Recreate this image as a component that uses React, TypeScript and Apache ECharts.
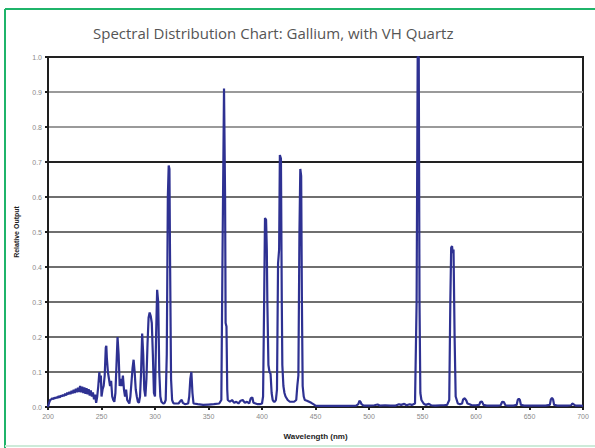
import React, { useEffect, useRef } from "react";
import * as echarts from "echarts";

// Wavelength samples (nm) and relative output of the lamp spectrum
const wavelength: number[] = [
  200, 201, 202, 203, 204, 205, 206, 207, 208, 209, 210, 211, 212, 213, 214, 215, 216, 217, 218, 219,
  220, 221, 222, 223, 224, 225, 226, 227, 228, 229, 230, 231, 232, 233, 234, 235, 236, 237, 238, 239,
  240, 241, 242, 243, 244, 245, 246, 247, 248, 248.7, 249.4, 250, 251, 252, 253, 254, 254.5, 255, 256, 257,
  258, 259, 260, 261, 262, 263, 264, 265, 266, 267, 268, 269, 270, 271, 272, 273, 274, 275, 276, 277,
  278, 279, 280, 281, 282, 283, 284, 285, 286, 287, 288, 289, 290, 291, 292, 293, 294, 295, 296, 297,
  298, 299, 300, 301, 302, 303, 304, 305, 306, 307, 308, 309, 310, 311, 312, 312.8, 313.5, 314, 315, 316,
  317, 318, 322, 324, 325, 326, 328, 331, 332, 333, 334, 335, 336, 340, 345, 350, 355, 360, 362, 363,
  364.5, 365.5, 366, 366.8, 367.5, 368, 370, 372, 374, 376, 378, 380, 382, 384, 386, 388, 389.5, 391, 392, 394,
  396, 398, 400, 401, 402, 402.8, 403.8, 404.5, 405, 406, 407, 408, 409, 410, 411, 412, 413, 414, 415, 416,
  416.7, 417.7, 418.5, 419, 420, 421, 422, 424, 426, 428, 430, 432, 433, 434, 435, 435.8, 436.6, 437.3, 438, 439,
  440, 442, 444, 446, 448, 450, 455, 460, 470, 480, 488, 490, 491, 492, 493, 495, 500, 505, 508, 510,
  515, 520, 525, 528, 530, 533, 535, 538, 540, 543, 544.5, 545.5, 546.5, 547.2, 548, 549, 551, 553, 556, 558,
  562, 567, 570, 573, 575, 576, 576.8, 577.6, 578.3, 579, 580, 581, 583, 585, 587, 588, 589.5, 591, 592, 594,
  596, 600, 603, 604, 605.5, 607, 610, 615, 620, 623, 624.5, 626, 627.5, 630, 635, 638, 639, 640, 641, 642,
  645, 650, 655, 660, 665, 669, 670, 671, 672, 673, 676, 680, 685, 689, 690, 691, 693, 697, 700,
];

const relativeOutput: number[] = [
  0.0, 0.012, 0.02, 0.022, 0.025, 0.022, 0.027, 0.025, 0.028, 0.026, 0.031, 0.027, 0.033, 0.03, 0.035, 0.031, 0.038, 0.033, 0.041, 0.036,
  0.043, 0.037, 0.046, 0.039, 0.049, 0.04, 0.052, 0.042, 0.055, 0.043, 0.06, 0.042, 0.058, 0.04, 0.056, 0.038, 0.054, 0.036, 0.051, 0.033,
  0.047, 0.03, 0.042, 0.022, 0.035, 0.012, 0.03, 0.06, 0.1, 0.07, 0.09, 0.03, 0.05, 0.06, 0.09, 0.17, 0.175, 0.14, 0.1, 0.08,
  0.06, 0.075, 0.03, 0.02, 0.015, 0.04, 0.12, 0.2, 0.15, 0.06, 0.08, 0.06, 0.09, 0.05, 0.03, 0.05, 0.02, 0.015, 0.01, 0.03,
  0.07, 0.11, 0.135, 0.1, 0.05, 0.03, 0.015, 0.012, 0.03, 0.1, 0.21, 0.15, 0.05, 0.03, 0.08, 0.18, 0.255, 0.27, 0.26, 0.24,
  0.15, 0.04, 0.03, 0.2, 0.335, 0.3, 0.1, 0.03, 0.015, 0.012, 0.01, 0.012, 0.02, 0.15, 0.6, 0.69, 0.68, 0.45, 0.08, 0.02,
  0.012, 0.01, 0.01, 0.018, 0.02, 0.012, 0.008, 0.01, 0.03, 0.08, 0.1, 0.04, 0.01, 0.008, 0.006, 0.007, 0.008, 0.01, 0.02, 0.4,
  0.91, 0.6, 0.24, 0.23, 0.05, 0.02, 0.015, 0.02, 0.012, 0.015, 0.01, 0.018, 0.02, 0.012, 0.015, 0.01, 0.025, 0.027, 0.012, 0.01,
  0.008, 0.008, 0.01, 0.03, 0.3, 0.54, 0.535, 0.45, 0.3, 0.12, 0.1, 0.095, 0.04, 0.02, 0.015, 0.015, 0.02, 0.05, 0.41, 0.45,
  0.72, 0.71, 0.3, 0.12, 0.06, 0.04, 0.03, 0.02, 0.015, 0.015, 0.015, 0.02, 0.06, 0.09, 0.5, 0.68, 0.66, 0.3, 0.06, 0.03,
  0.02, 0.018, 0.015, 0.012, 0.008, 0.004, 0.003, 0.003, 0.003, 0.003, 0.004, 0.008, 0.018, 0.015, 0.008, 0.004, 0.004, 0.005, 0.007, 0.004,
  0.005, 0.004, 0.004, 0.008, 0.006, 0.009, 0.005, 0.008, 0.006, 0.01, 0.3, 1.0, 1.0, 0.3, 0.04, 0.02, 0.01, 0.006, 0.009, 0.005,
  0.004, 0.005, 0.005, 0.006, 0.02, 0.3, 0.455, 0.46, 0.44, 0.45, 0.2, 0.03, 0.01, 0.008, 0.01, 0.022, 0.025, 0.018, 0.01, 0.008,
  0.005, 0.005, 0.006, 0.014, 0.016, 0.006, 0.004, 0.004, 0.004, 0.005, 0.015, 0.014, 0.005, 0.004, 0.004, 0.006, 0.02, 0.024, 0.02, 0.006,
  0.004, 0.004, 0.004, 0.004, 0.004, 0.006, 0.022, 0.026, 0.022, 0.006, 0.004, 0.004, 0.004, 0.005, 0.01, 0.008, 0.004, 0.004, 0.003,
];

// Split-line shades, one per y tick from 0.0 to 1.0
const gridShades: string[] = [
  "#6f6f6f", "#6f6f6f", "#6f6f6f", "#6f6f6f", "#6f6f6f", "#6f6f6f",
  "#6f6f6f", "#222222", "#9a9a9a", "#9a9a9a", "#222222",
];

const TITLE = "Spectral Distribution Chart: Gallium, with VH Quartz";

export default function App() {
  const ref = useRef<HTMLDivElement>(null);

  useEffect(() => {
    if (!ref.current) return;
    const chart = echarts.init(ref.current, null, { renderer: "svg" });
    const points = wavelength.map((w, i) => [w, relativeOutput[i]]);

    chart.setOption({
      animation: false,
      backgroundColor: "#ffffff",
      title: {
        text: TITLE,
        left: 88,
        top: 20,
        textStyle: {
          fontFamily: "Open Sans",
          fontSize: 15,
          fontWeight: "normal",
          color: "#555555",
        },
      },
      grid: {
        left: 48,
        right: 12,
        top: 57,
        bottom: 41,
        show: true,
        borderColor: "#1e1e1e",
        borderWidth: 2,
      },
      xAxis: {
        type: "value",
        min: 200,
        max: 700,
        interval: 50,
        name: "Wavelength (nm)",
        nameLocation: "middle",
        nameGap: 25,
        nameTextStyle: {
          fontFamily: "Liberation Sans",
          fontSize: 8,
          fontWeight: "bold",
          color: "#222222",
        },
        axisLine: { show: true, lineStyle: { color: "#1e1e1e", width: 2 } },
        axisTick: { show: true, length: 3, lineStyle: { color: "#1e1e1e", width: 2 } },
        axisLabel: {
          fontFamily: "Liberation Sans",
          fontSize: 7,
          color: "#8a8a8a",
          margin: 6,
        },
        splitLine: { show: false },
      },
      yAxis: {
        type: "value",
        min: 0,
        max: 1,
        interval: 0.1,
        name: "Relative Output",
        nameLocation: "middle",
        nameGap: 28,
        nameTextStyle: {
          fontFamily: "Liberation Sans",
          fontSize: 7,
          fontWeight: "bold",
          color: "#222222",
        },
        axisLine: { show: true, lineStyle: { color: "#1e1e1e", width: 2 } },
        axisTick: { show: true, length: 3, lineStyle: { color: "#1e1e1e", width: 2 } },
        axisLabel: {
          fontFamily: "Liberation Sans",
          fontSize: 7,
          color: "#8a8a8a",
          margin: 6,
          formatter: (v: number) => v.toFixed(1),
        },
        splitLine: {
          show: true,
          lineStyle: { color: gridShades, width: 2 },
        },
      },
      series: [
        {
          type: "line",
          data: points,
          showSymbol: false,
          symbol: "none",
          lineStyle: { color: "#2e3192", width: 2.2 },
          z: 3,
        },
      ],
      graphic: [
        {
          type: "line",
          shape: { x1: 5, y1: 9, x2: 595, y2: 9 },
          style: { stroke: "#1fb46a", lineWidth: 2 },
        },
        {
          type: "line",
          shape: { x1: 5, y1: 9, x2: 5, y2: 448 },
          style: { stroke: "#1fb46a", lineWidth: 2 },
        },
        {
          type: "line",
          shape: { x1: 5, y1: 446, x2: 595, y2: 446 },
          style: { stroke: "#cdebd9", lineWidth: 2 },
        },
      ],
    });

    return () => chart.dispose();
  }, []);

  return (
    <div
      ref={ref}
      style={{ position: "fixed", left: 0, top: 0, width: 595, height: 448 }}
    />
  );
}
